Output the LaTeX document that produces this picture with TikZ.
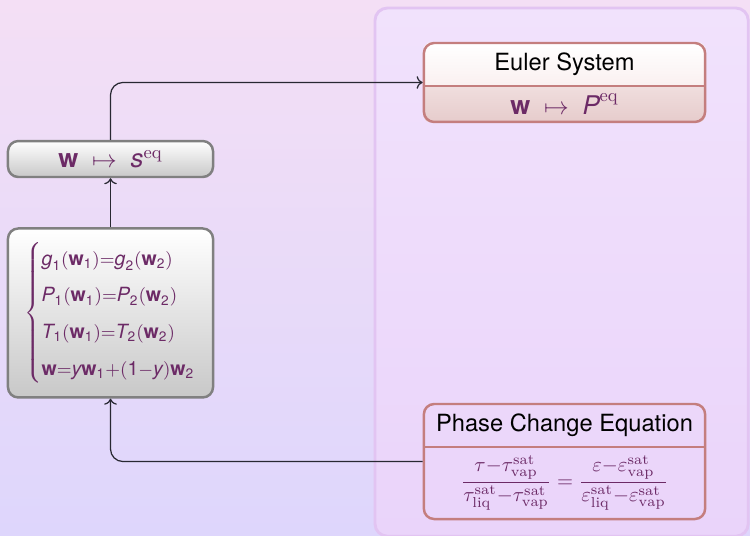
\documentclass[tikz,border=0pt]{standalone}
\usepackage{amsmath}
\usepackage{amssymb}
\usepackage{fontspec}
\setsansfont{TeX Gyre Heros}
\usepackage{tikz}
\usetikzlibrary{positioning, arrows.meta, fit, calc, backgrounds}
\newcommand{\wvec}{\text{\bfseries w}}
\newcommand{\sv}[1]{\text{\itshape #1}}
\newcommand{\wsub}[1]{\wvec_{\text{#1}}}
\usepackage{xcolor}
\definecolor{bgtop}{RGB}{244,223,245}
\definecolor{bgbot}{RGB}{222,214,252}
\definecolor{paneltop}{RGB}{241,226,252}
\definecolor{panelbot}{RGB}{234,212,250}
\definecolor{panelline}{RGB}{226,196,242}
\definecolor{greyline}{RGB}{128,128,128}
\definecolor{greybot}{RGB}{200,200,200}
\definecolor{rosyline}{RGB}{196,126,126}
\definecolor{ttlbot}{RGB}{250,240,240}
\definecolor{bdytop}{RGB}{240,222,222}
\definecolor{bdybot}{RGB}{230,204,204}
\definecolor{mathpurple}{RGB}{108,42,102}
\definecolor{arrowgrey}{RGB}{40,40,50}

\begin{document}
\begin{tikzpicture}[
  font=\sffamily\fontsize{11.5}{14}\selectfont,
  greybox/.style={draw=greyline, line width=1.2pt, rounded corners=5pt,
                  top color=white, bottom color=greybot, text=mathpurple,
                  minimum width=3.5cm, minimum height=0.614cm, inner sep=0pt},
  ttl/.style={minimum width=4.8cm, minimum height=0.734cm,
              inner sep=0pt, outer sep=0pt},
  bdy/.style={ttl, text=mathpurple, minimum height=0.614cm},
  frame/.style={draw=rosyline, line width=1.2pt, rounded corners=5pt,
                inner sep=0pt},
  mapfont/.style={font=\sffamily\fontsize{12.5}{15}\selectfont},
  conn/.style={->, line width=0.6pt, arrowgrey, rounded corners=6pt}
]

\useasboundingbox (0,0) rectangle (12.8,9.131);

% background and right-hand panel
\begin{scope}[on background layer]
  \shade[top color=bgtop, bottom color=bgbot] (0,0) rectangle (12.8,9.131);
  \shade[top color=paneltop, bottom color=panelbot, rounded corners=6pt]
    (6.40,-0.02) rectangle (12.77,8.994);
  \draw[panelline, line width=1.4pt, rounded corners=6pt]
    (6.40,-0.02) rectangle (12.77,8.994);
\end{scope}

% Euler system
\node[ttl] (eulT) at (9.634, 8.030) {Euler System};
\node[bdy, mapfont, below=0pt of eulT] (eulB) {$\wvec \;\mapsto\; \sv{P}^{\mathrm{eq}}$};
\node[frame, fit=(eulT)(eulB)] (eul) {};
\begin{scope}[on background layer]
  \clip[rounded corners=5pt] (eul.south west) rectangle (eul.north east);
  \shade[top color=white, bottom color=ttlbot] (eulT.south west) rectangle (eulT.north east);
  \shade[top color=bdytop, bottom color=bdybot] (eulB.south west) rectangle (eulB.north east);
\end{scope}
\draw[rosyline, line width=1.2pt] (eulT.south west) -- (eulT.south east);

% Phase change equation
\node[ttl] (phsT) at (9.634, 1.869) {Phase Change Equation};
\node[bdy, below=0pt of phsT, minimum height=1.229cm] (phsB) {%
  \fontsize{10}{12}\selectfont
  $\dfrac{\tau{-}\tau^{\mathrm{sat}}_{\mathrm{vap}}}
         {\tau^{\mathrm{sat}}_{\mathrm{liq}}{-}\tau^{\mathrm{sat}}_{\mathrm{vap}}}
   = \dfrac{\varepsilon{-}\varepsilon^{\mathrm{sat}}_{\mathrm{vap}}}
         {\varepsilon^{\mathrm{sat}}_{\mathrm{liq}}{-}\varepsilon^{\mathrm{sat}}_{\mathrm{vap}}}$};
\node[frame, fit=(phsT)(phsB)] (phs) {};
\begin{scope}[on background layer]
  \clip[rounded corners=5pt] (phs.south west) rectangle (phs.north east);
  \shade[top color=white, bottom color=ttlbot] (phsT.south west) rectangle (phsT.north east);
  \shade[top color=bdytop, bottom color=bdybot] (phsB.south west) rectangle (phsB.north east);
\end{scope}
\draw[rosyline, line width=1.2pt] (phsT.south west) -- (phsT.south east);

% equilibrium map and system
\node[greybox, mapfont] (sbox) at (1.886, 6.417) {$\wvec \;\mapsto\; \sv{s}^{\mathrm{eq}}$};
\node[greybox, below=0.836cm of sbox, minimum height=2.884cm] (sys) {%
  \fontsize{9.5}{11.5}\selectfont\renewcommand{\arraystretch}{1.55}%
  $\left\{\begin{array}{@{}l@{}}
    \sv{g}_{\text{1}}(\wsub{1}){=}\sv{g}_{\text{2}}(\wsub{2})\\
    \sv{P}_{\text{1}}(\wsub{1}){=}\sv{P}_{\text{2}}(\wsub{2})\\
    \sv{T}_{\text{1}}(\wsub{1}){=}\sv{T}_{\text{2}}(\wsub{2})\\
    \wvec{=}\sv{y}\wsub{1}{+}(\text{1}{-}\sv{y})\wsub{2}
  \end{array}\right.$};

% connectors
\draw[conn] (sbox.north) |- (eul.west);
\draw[conn] (sys.north) -- (sbox.south);
\draw[conn] (phs.west) -| (sys.south);

\end{tikzpicture}
\end{document}
